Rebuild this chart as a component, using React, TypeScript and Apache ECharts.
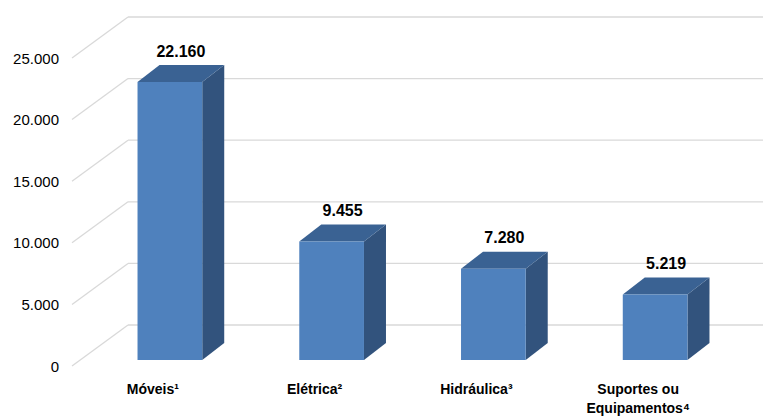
import React, { useEffect, useRef } from "react";
import * as echarts from "echarts";

const categories = ["Móveis¹", "Elétrica²", "Hidráulica³", "Suportes ou\nEquipamentos⁴"];
const values = [22160, 9455, 7280, 5219];
const yTicks = [0, 5000, 10000, 15000, 20000, 25000];

const fmt = (v: number) => String(v).replace(/\B(?=(\d{3})+(?!\d))/g, ".");

const FONT = "'Liberation Sans', Arial, sans-serif";
const DEPTH_X = 22;
const DEPTH_Y = -17;
const WALL_X = 56;
const WALL_Y = -41;

export default function App() {
  const ref = useRef<HTMLDivElement>(null);
  useEffect(() => {
    if (!ref.current) return;
    const chart = echarts.init(ref.current, undefined, { renderer: "svg" });
    const option: any = {
      animation: false,
      backgroundColor: "#ffffff",
      grid: [
        { left: 72, right: 44, top: 58, bottom: 44 },
        { left: 89, right: 27, top: 46.5, bottom: 57 },
      ],
      xAxis: [
        {
          type: "category",
          gridIndex: 0,
          data: categories,
          axisLine: { show: false },
          axisTick: { show: false },
          splitLine: { show: false },
          axisLabel: {
            margin: 13,
            interval: 0,
            color: "#000",
            fontFamily: FONT,
            fontSize: 14,
            fontWeight: "bold",
            lineHeight: 19,
            align: "center",
          },
        },
        {
          type: "category",
          gridIndex: 1,
          data: categories,
          show: false,
        },
      ],
      yAxis: [
        {
          type: "value",
          gridIndex: 0,
          min: 0,
          max: 25000,
          interval: 5000,
          axisLine: { show: false },
          axisTick: { show: false },
          splitLine: { show: false },
          axisLabel: {
            margin: 13,
            color: "#000",
            fontFamily: FONT,
            fontSize: 15,
            formatter: (v: number) => fmt(v),
          },
        },
        {
          type: "value",
          gridIndex: 1,
          min: 0,
          max: 25000,
          interval: 5000,
          show: false,
        },
      ],
      series: [
        {
          type: "custom",
          xAxisIndex: 0,
          yAxisIndex: 0,
          z: 1,
          silent: true,
          data: yTicks.map((t) => [0, t]),
          renderItem: (params: any, api: any) => {
            const cs = params.coordSys;
            const p = api.coord([0, api.value(1)]);
            const y = p[1];
            const x0 = cs.x;
            const style = { stroke: "#d9d9d9", lineWidth: 1.3, fill: null };
            return {
              type: "group",
              children: [
                {
                  type: "line",
                  shape: { x1: x0, y1: y, x2: x0 + WALL_X, y2: y + WALL_Y },
                  style,
                },
                {
                  type: "line",
                  shape: { x1: x0 + WALL_X, y1: y + WALL_Y, x2: api.getWidth(), y2: y + WALL_Y },
                  style,
                },
              ],
            };
          },
        },
        {
          type: "custom",
          xAxisIndex: 1,
          yAxisIndex: 1,
          z: 5,
          data: values.map((v, i) => [i, v]),
          renderItem: (params: any, api: any) => {
            const idx = api.value(0);
            const v = api.value(1);
            const top = api.coord([idx, v]);
            const base = api.coord([idx, 0]);
            const band = api.size([1, 0])[0];
            const w = band * 0.4;
            const cx = top[0];
            const l = cx - w / 2;
            const r = cx + w / 2;
            const yt = top[1];
            const yb = base[1];
            return {
              type: "group",
              children: [
                {
                  type: "polygon",
                  shape: {
                    points: [
                      [r, yt],
                      [r + DEPTH_X, yt + DEPTH_Y],
                      [r + DEPTH_X, yb + DEPTH_Y],
                      [r, yb],
                    ],
                  },
                  style: { fill: "#32537D" },
                },
                {
                  type: "polygon",
                  shape: {
                    points: [
                      [l, yt],
                      [l + DEPTH_X, yt + DEPTH_Y],
                      [r + DEPTH_X, yt + DEPTH_Y],
                      [r, yt],
                    ],
                  },
                  style: { fill: "#3A6293" },
                },
                {
                  type: "rect",
                  shape: { x: l, y: yt, width: w, height: yb - yt },
                  style: { fill: "#4F81BD" },
                },
                {
                  type: "text",
                  x: cx + DEPTH_X / 2,
                  y: yt + DEPTH_Y - 14,
                  style: {
                    text: fmt(v),
                    align: "center",
                    verticalAlign: "middle",
                    fill: "#000",
                    font: `bold 16px ${FONT}`,
                  },
                },
              ],
            };
          },
        },
      ],
    };
    chart.setOption(option);
    return () => chart.dispose();
  }, []);
  return (
    <div
      ref={ref}
      style={{ position: "fixed", left: 0, top: 0, width: 763, height: 417, background: "#fff" }}
    />
  );
}
